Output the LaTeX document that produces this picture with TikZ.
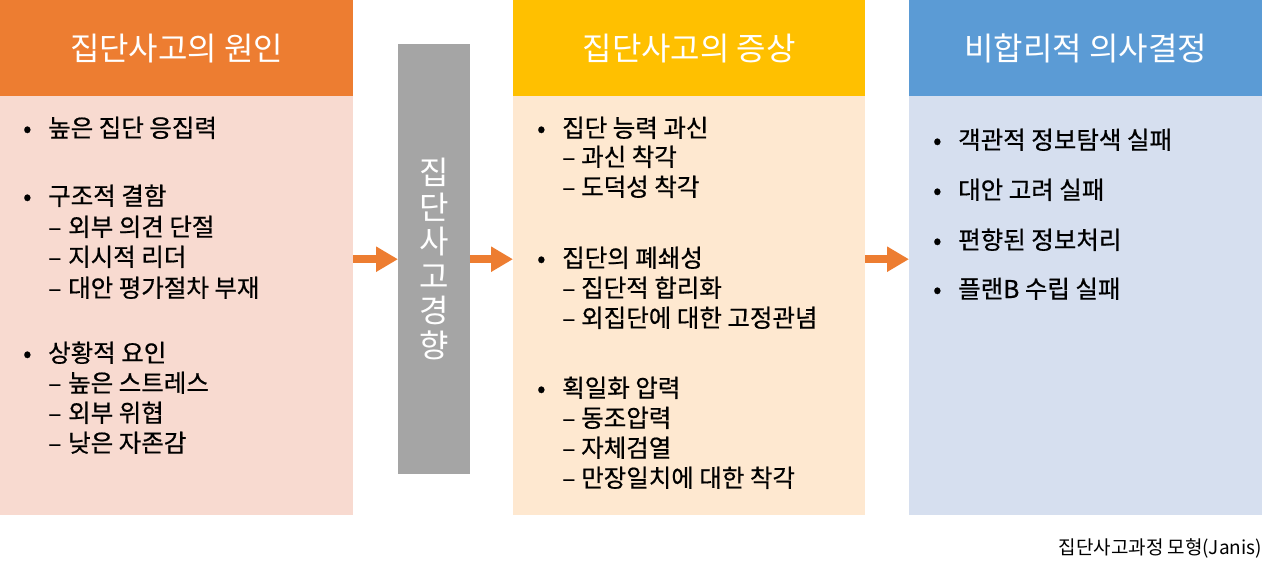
\documentclass[tikz,border=0pt]{standalone}
\usepackage{fontspec}
\setmainfont{Noto Sans CJK KR}[BoldFont={Noto Sans CJK KR},BoldFeatures={FakeBold=0.6}]
\usetikzlibrary{arrows.meta}
\definecolor{hdrA}{HTML}{ED7D31}
\definecolor{bodyA}{HTML}{F8DAD0}
\definecolor{hdrB}{HTML}{FFC000}
\definecolor{bodyB}{HTML}{FEE8D0}
\definecolor{hdrC}{HTML}{5B9BD5}
\definecolor{bodyC}{HTML}{D6DFEF}
\definecolor{barG}{HTML}{A5A5A5}
\definecolor{arrO}{HTML}{ED7D31}
\begin{document}
\begin{tikzpicture}[x=1pt,y=-1pt,
  hdr/.style={anchor=north west, minimum height=96, inner sep=0, text=white, font=\fontsize{32}{34}\selectfont},
  bodybox/.style={anchor=north west, minimum height=419, inner sep=0},
  itm/.style={anchor=base west, inner sep=0, font=\fontsize{24.5}{30}\bfseries},
  flow/.style={draw=arrO, line width=7.5pt, -{Triangle[length=22pt 0,width=24pt 0]}, shorten >=0pt},
]
\useasboundingbox (0,0) rectangle (1280,573);
% boxes
\node[bodybox, fill=bodyA, minimum width=353] (b1) at (0,96) {};
\node[hdr, fill=hdrA, minimum width=353] (h1) at (0,0) {집단사고의 원인};
\node[bodybox, fill=bodyB, minimum width=352] (b2) at (513,96) {};
\node[hdr, fill=hdrB, minimum width=352] (h2) at (513,0) {집단사고의 증상};
\node[bodybox, fill=bodyC, minimum width=353] (b3) at (909,96) {};
\node[hdr, fill=hdrC, minimum width=353] (h3) at (909,0) {비합리적 의사결정};
% gray bar
\node[anchor=north west, fill=barG, minimum width=72, minimum height=430, inner sep=0] (bar) at (398,44) {};
\node[text=white, align=center, font=\fontsize{32}{34.5}\selectfont, inner sep=0] (bartxt) at (bar.center) {집\\단\\사\\고\\경\\향};
% arrows
\draw[flow] (b1.east |- bar.center) -- (bar.west);
\draw[flow] (bar.east) -- (b2.west |- bar.center);
\draw[flow] (b2.east |- bar.center) -- (b3.west |- bar.center);
% box 1 items
\node[itm] (a1) at (23,137) {\makebox[25pt][l]{•}높은 집단 응집력};
\node[itm] (a2) at (23,205) {\makebox[25pt][l]{•}구조적 결함};
\node[itm] (a3) at (48,236) {\makebox[20pt][l]{–}외부 의견 단절};
\node[itm] (a4) at (48,266) {\makebox[20pt][l]{–}지시적 리더};
\node[itm] (a5) at (48,297) {\makebox[20pt][l]{–}대안 평가절차 부재};
\node[itm] (a6) at (23,362) {\makebox[25pt][l]{•}상황적 요인};
\node[itm] (a7) at (48,392) {\makebox[20pt][l]{–}높은 스트레스};
\node[itm] (a8) at (48,422) {\makebox[20pt][l]{–}외부 위협};
\node[itm] (a9) at (48,452) {\makebox[20pt][l]{–}낮은 자존감};
% box 2 items
\node[itm] (c1) at (537,137) {\makebox[25pt][l]{•}집단 능력 과신};
\node[itm] (c2) at (562,166) {\makebox[19pt][l]{–}과신 착각};
\node[itm] (c3) at (562,196) {\makebox[19pt][l]{–}도덕성 착각};
\node[itm] (c4) at (537,267) {\makebox[25pt][l]{•}집단의 폐쇄성};
\node[itm] (c5) at (562,297) {\makebox[19pt][l]{–}집단적 합리화};
\node[itm] (c6) at (562,327) {\makebox[19pt][l]{–}외집단에 대한 고정관념};
\node[itm] (c7) at (537,397) {\makebox[25pt][l]{•}획일화 압력};
\node[itm] (c8) at (562,427) {\makebox[19pt][l]{–}동조압력};
\node[itm] (c9) at (562,457) {\makebox[19pt][l]{–}자체검열};
\node[itm] (c10) at (562,487) {\makebox[19pt][l]{–}만장일치에 대한 착각};
% box 3 items
\node[itm] (d1) at (933,149) {\makebox[25pt][l]{•}객관적 정보탐색 실패};
\node[itm] (d2) at (933,199) {\makebox[25pt][l]{•}대안 고려 실패};
\node[itm] (d3) at (933,249) {\makebox[25pt][l]{•}편향된 정보처리};
\node[itm] (d4) at (933,298) {\makebox[25pt][l]{•}플랜B 수립 실패};
% caption
\node[anchor=base east, inner sep=0, font=\fontsize{19}{22}\selectfont] (cap) at (1262,554) {집단사고과정 모형(Janis)};
\end{tikzpicture}
\end{document}
